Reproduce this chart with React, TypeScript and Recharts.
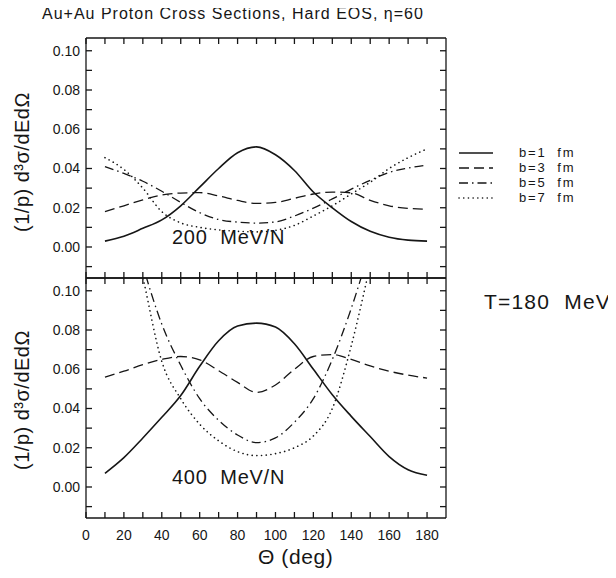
import React from "react";
import { Legend, Line, LineChart, XAxis, YAxis } from "recharts";

const theta = [10, 20, 30, 40, 50, 60, 70, 80, 90, 100, 110, 120, 130, 140, 150, 160, 170, 180];

// 200 MeV/N, impact parameters b = 1, 3, 5, 7 fm
const low1 = [0.003, 0.0055, 0.0095, 0.0138, 0.021, 0.0305, 0.04, 0.048, 0.051, 0.047, 0.039, 0.028, 0.02, 0.013, 0.008, 0.005, 0.0035, 0.003];
const low3 = [0.018, 0.021, 0.024, 0.0265, 0.0275, 0.0277, 0.026, 0.0237, 0.0222, 0.0227, 0.0248, 0.027, 0.028, 0.0276, 0.0238, 0.021, 0.0197, 0.0193];
const low5 = [0.041, 0.0375, 0.0335, 0.0284, 0.0227, 0.0175, 0.014, 0.0127, 0.0122, 0.0128, 0.0158, 0.0198, 0.0245, 0.0295, 0.034, 0.038, 0.0402, 0.0418];
const low7 = [0.0455, 0.0395, 0.03, 0.018, 0.0123, 0.01, 0.0087, 0.008, 0.0077, 0.0085, 0.011, 0.0158, 0.021, 0.027, 0.033, 0.04, 0.0455, 0.05];

// 400 MeV/N
const high1 = [0.007, 0.015, 0.025, 0.0355, 0.0466, 0.0615, 0.0745, 0.082, 0.0835, 0.0815, 0.073, 0.06, 0.047, 0.036, 0.0257, 0.0155, 0.0088, 0.006];
const high3 = [0.056, 0.059, 0.0623, 0.065, 0.0665, 0.0648, 0.0593, 0.0533, 0.0482, 0.052, 0.06, 0.0665, 0.0675, 0.065, 0.0617, 0.059, 0.057, 0.0555];
const high5 = [0.19, 0.15, 0.113, 0.083, 0.062, 0.045, 0.034, 0.0265, 0.0226, 0.025, 0.033, 0.045, 0.065, 0.091, 0.122, 0.155, 0.19, 0.225];
const high7 = [0.2, 0.15, 0.107, 0.064, 0.045, 0.032, 0.0235, 0.018, 0.016, 0.017, 0.02, 0.026, 0.04, 0.072, 0.113, 0.155, 0.2, 0.245];

const xTicks = [0, 10, 20, 30, 40, 50, 60, 70, 80, 90, 100, 110, 120, 130, 140, 150, 160, 170, 180];
const yTicks = [-0.01, 0, 0.01, 0.02, 0.03, 0.04, 0.05, 0.06, 0.07, 0.08, 0.09, 0.1];

const X_DOMAIN: [number, number] = [0, 190];
const Y_DOMAIN: [number, number] = [-0.0158, 0.1065];

const FONT = '"Liberation Sans", Arial, sans-serif';
const INK = "#161616";
const TICK = 6; // inward tick length

const series = [
  { key: "b1", name: "b=1  fm", dash: undefined as string | undefined, width: 1.6, cap: "butt" },
  { key: "b3", name: "b=3  fm", dash: "10 5", width: 1.3, cap: "butt" },
  { key: "b5", name: "b=5  fm", dash: "9 4 1.5 4", width: 1.3, cap: "butt" },
  { key: "b7", name: "b=7  fm", dash: "0.1 4.6", width: 1.6, cap: "round" },
];

const toRows = (b1: number[], b3: number[], b5: number[], b7: number[]) =>
  theta.map((t, i) => ({ theta: t, b1: b1[i], b3: b3[i], b5: b5[i], b7: b7[i] }));

const lowRows = toRows(low1, low3, low5, low7);
const highRows = toRows(high1, high3, high5, high7);

const frame = { stroke: INK, strokeWidth: 1.3 };
const tickStroke = { stroke: INK, strokeWidth: 1.3 };

// negative tickSize turns the ticks inward; p.x / p.y arrive at the inner end of the tick
function xLabel(p: any) {
  const v = p.payload.value as number;
  if (v % 20 !== 0) return <g />;
  return (
    <text x={p.x} y={p.y + TICK + 22} textAnchor="middle" fontSize={14} fontFamily={FONT} fill={INK}>
      {v}
    </text>
  );
}

function yLabel(p: any) {
  const v = p.payload.value as number;
  if (Math.round(v * 100) % 2 !== 0) return <g />;
  return (
    <text x={p.x - TICK - 6} y={p.y + 5} textAnchor="end" fontSize={14} fontFamily={FONT} fill={INK}>
      {v.toFixed(2)}
    </text>
  );
}

const noLabel = () => <g />;

function LegendBox() {
  return (
    <div style={{ fontFamily: FONT, fontSize: 13, lineHeight: "13px", color: INK }}>
      {series.map((s) => (
        <div key={s.key} style={{ display: "flex", alignItems: "center", height: 15 }}>
          <svg width={40} height={10}>
            <line x1={2} y1={5} x2={36} y2={5} stroke={INK} strokeWidth={s.width}
              strokeDasharray={s.dash} strokeLinecap={s.cap as any} />
          </svg>
          <span style={{ marginLeft: 22, letterSpacing: 1.8, whiteSpace: "pre" }}>{s.name}</span>
        </div>
      ))}
    </div>
  );
}

function Panel(props: {
  rows: typeof lowRows;
  top: number;
  height: number;
  marginTop: number;
  marginBottom: number;
  xLabels: boolean;
  legend?: boolean;
}) {
  return (
    <div style={{ position: "absolute", left: 0, top: props.top }}>
      <LineChart
        width={616}
        height={props.height}
        data={props.rows}
        margin={{ top: props.marginTop, right: 169, bottom: props.marginBottom, left: 0 }}
      >
        <XAxis xAxisId="b" dataKey="theta" type="number" domain={X_DOMAIN} ticks={xTicks} interval={0}
          height={1} tickSize={-TICK} tickMargin={0} tickLine={tickStroke} axisLine={frame}
          tick={props.xLabels ? xLabel : noLabel} allowDataOverflow />
        <XAxis xAxisId="t" dataKey="theta" orientation="top" type="number" domain={X_DOMAIN} ticks={xTicks}
          interval={0} height={1} tickSize={-TICK} tickMargin={0} tickLine={tickStroke} axisLine={frame}
          tick={noLabel} allowDataOverflow />
        <YAxis yAxisId="l" type="number" domain={Y_DOMAIN} ticks={yTicks} interval={0} width={86}
          tickSize={-TICK} tickMargin={0} tickLine={tickStroke} axisLine={frame} tick={yLabel}
          allowDataOverflow />
        <YAxis yAxisId="r" orientation="right" type="number" domain={Y_DOMAIN} ticks={yTicks} interval={0}
          width={1} tickSize={-TICK} tickMargin={0} tickLine={tickStroke} axisLine={frame} tick={noLabel}
          allowDataOverflow />
        {series.map((s) => (
          <Line
            key={s.key}
            xAxisId="b"
            yAxisId="l"
            dataKey={s.key}
            name={s.name}
            type="monotone"
            stroke={INK}
            strokeWidth={s.width}
            strokeDasharray={s.dash}
            strokeLinecap={s.cap as any}
            dot={false}
            activeDot={false}
            isAnimationActive={false}
          />
        ))}
        {props.legend ? (
          <Legend
            layout="horizontal"
            verticalAlign="middle"
            align="center"
            content={() => <LegendBox />}
            wrapperStyle={{ left: 457, top: 145, width: 150, height: 62 }}
          />
        ) : null}
      </LineChart>
    </div>
  );
}

export default function App() {
  const yTitle = "(1/p) d\u00b3\u03c3/dEd\u03a9";
  return (
    <div style={{ position: "relative", width: 616, height: 578, margin: -8, background: "#fff", overflow: "hidden" }}>
      <Panel rows={lowRows} top={0} height={290} marginTop={37} marginBottom={11} xLabels={false} legend />
      <Panel rows={highRows} top={260} height={318} marginTop={17} marginBottom={59} xLabels />
      <svg width={616} height={578} style={{ position: "absolute", left: 0, top: 0, pointerEvents: "none" }}
        fontFamily={FONT} fill={INK}>
        <text x={42} y={19} fontSize={16} letterSpacing={1.0}>
          Au+Au Proton Cross Sections, Hard EOS, {"\u03b7"}=60
        </text>
        <text transform="translate(29,162) rotate(-90)" textAnchor="middle" fontSize={20} letterSpacing={0.5}>
          {yTitle}
        </text>
        <text transform="translate(29,400) rotate(-90)" textAnchor="middle" fontSize={20} letterSpacing={0.5}>
          {yTitle}
        </text>
        <text x={172} y={244} fontSize={20} letterSpacing={0.75} style={{ whiteSpace: "pre" }}>
          200  MeV/N
        </text>
        <text x={172} y={484} fontSize={20} letterSpacing={0.75} style={{ whiteSpace: "pre" }}>
          400  MeV/N
        </text>
        <text x={484} y={309} fontSize={21} letterSpacing={1.2} style={{ whiteSpace: "pre" }}>
          T=180  MeV
        </text>
        <text x={258} y={564} fontSize={21} letterSpacing={0.6}>
          {"\u0398 (deg)"}
        </text>
      </svg>
    </div>
  );
}
